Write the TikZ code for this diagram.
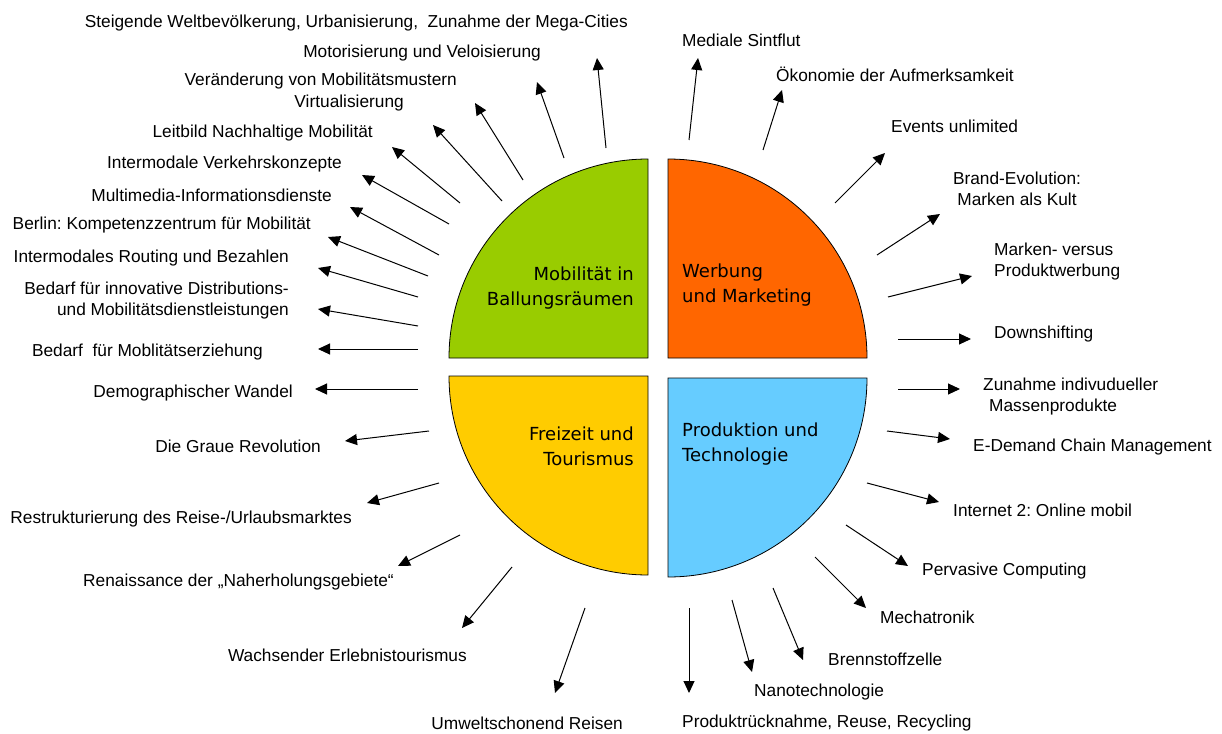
\documentclass[tikz,border=0pt]{standalone}
\usepackage{fontspec}
\setmainfont{Liberation Sans}
\newfontfamily\quadfont{DejaVu Sans}
\usetikzlibrary{arrows.meta}
\definecolor{mobgreen}{RGB}{153,204,0}
\definecolor{werborange}{RGB}{255,102,0}
\definecolor{freiyellow}{RGB}{255,204,0}
\definecolor{prodblue}{RGB}{102,204,255}
\frenchspacing

\begin{document}
\begin{tikzpicture}[x=1pt,y=-1pt,
    trend/.style={inner sep=0pt, font=\fontsize{17.3pt}{21pt}\selectfont},
    field/.style={inner sep=0pt, font=\quadfont\fontsize{18pt}{25pt}\selectfont},
    sector/.style={draw=black, line width=0.8pt},
    ray/.style={line width=1pt, -{Triangle[length=12pt,width=11pt]}}]
    \useasboundingbox (0,0) rectangle (1222,733);

    % the four quarter discs
    \filldraw[sector, fill=mobgreen] (648,358) -- (449,358) arc (180:270:199) -- cycle;
    \filldraw[sector, fill=werborange] (668,358) -- (668,159) arc (270:360:199) -- cycle;
    \filldraw[sector, fill=freiyellow] (648,376) -- (648,575) arc (90:180:199) -- cycle;
    \filldraw[sector, fill=prodblue] (668,378) -- (867,378) arc (0:90:199) -- cycle;

    \node[field, align=right, anchor=east] (mob) at (634,288) {Mobilität in\\Ballungsräumen};
    \node[field, align=left, anchor=west] (werb) at (682,285) {Werbung\\und Marketing};
    \node[field, align=right, anchor=east] (frei) at (634,446) {Freizeit und\\Tourismus};
    \node[field, align=left, anchor=west] (prod) at (682,444) {Produktion und\\Technologie};

    % trends on the left: anchored at their right end
    \node[trend, anchor=east] (steig) at (628,23) {Steigende Weltbevölkerung, Urbanisierung,\ \ Zunahme der Mega-Cities};
    \node[trend, anchor=east] (motor) at (541,53) {Motorisierung und Veloisierung};
    \node[trend, anchor=east] (veraend) at (457,81) {Veränderung von Mobilitätsmustern};
    \node[trend, anchor=east] (virt) at (404,103) {Virtualisierung};
    \node[trend, anchor=east] (leit) at (373,133) {Leitbild Nachhaltige Mobilität};
    \node[trend, anchor=east] (verk) at (342,164) {Intermodale Verkehrskonzepte};
    \node[trend, anchor=east] (multi) at (332,195) {Multimedia-Informationsdienste};
    \node[trend, anchor=east] (berlin) at (311,225) {Berlin: Kompetenzzentrum für Mobilität};
    \node[trend, anchor=east] (routing) at (289,258) {Intermodales Routing und Bezahlen};
    \node[trend, anchor=east, align=right] (distr) at (289,301) {Bedarf für innovative Distributions-\\und Mobilitätsdienstleistungen};
    \node[trend, anchor=east] (erzieh) at (263,352) {Bedarf\ \ für Moblitätserziehung};
    \node[trend, anchor=east] (demo) at (293,393) {Demographischer Wandel};
    \node[trend, anchor=east] (graue) at (321,446) {Die Graue Revolution};
    \node[trend, anchor=east] (restr) at (352,519) {Restrukturierung des Reise-/Urlaubsmarktes};
    \node[trend, anchor=east] (renai) at (394,582) {Renaissance der „Naherholungsgebiete“};
    \node[trend, anchor=east] (wachs) at (467,655) {Wachsender Erlebnistourismus};
    \node[trend, anchor=east] (umwelt) at (623,723) {Umweltschonend Reisen};

    % trends on the right: anchored at their left end
    \node[trend, anchor=west] (medial) at (682,40) {Mediale Sintflut};
    \node[trend, anchor=west] (oekon) at (776,74) {Ökonomie der Aufmerksamkeit};
    \node[trend, anchor=west] (events) at (891,126) {Events unlimited};
    \node[trend, align=center] (brand) at (1017,189) {Brand-Evolution:\\Marken als Kult};
    \node[trend, anchor=west, align=left] (versus) at (994,262) {Marken- versus\\Produktwerbung};
    \node[trend, anchor=west] (down) at (994,334) {Downshifting};
    \node[trend, anchor=west, align=left] (zunahme) at (983,397) {Zunahme indivudueller\\\hspace{6pt}Massenprodukte};
    \node[trend, anchor=west] (edemand) at (973,447) {E-Demand Chain Management};
    \node[trend, anchor=west] (internet) at (953,510) {Internet 2: Online mobil};
    \node[trend, anchor=west] (perv) at (922,571) {Pervasive Computing};
    \node[trend, anchor=west] (mecha) at (880,617) {Mechatronik};
    \node[trend, anchor=west] (brenn) at (828,659) {Brennstoffzelle};
    \node[trend, anchor=west] (nano) at (754,692) {Nanotechnologie};
    \node[trend, anchor=west] (recyc) at (682,723) {Produktrücknahme, Reuse, Recycling};

    % rays from the disc towards each trend
    \foreach \n/\sx/\sy/\ex/\ey in {steig/606/148/597/58, motor/564/158/537/82,
        veraend/523/180/475/103, virt/502/201/433/125, leit/460/203/392/147,
        verk/449/224/362/175, multi/439/255/350/207, berlin/428/276/328/237,
        routing/418/297/318/268, distr/418/326/318/309, erzieh/418/349/318/349,
        demo/418/389/315/389, graue/429/431/345/441, restr/439/483/367/503,
        renai/460/535/398/566, wachs/512/567/462/628, umwelt/585/608/555/693,
        recyc/689/608/689/693, nano/732/600/752/672, brenn/773/588/803/660,
        mecha/815/557/866/608, perv/846/525/908/566, internet/867/483/939/502,
        edemand/887/431/950/439, zunahme/898/389/960/389, down/898/339/971/339,
        versus/888/297/972/276, brand/877/255/940/214, events/835/203/885/153,
        oekon/763/150/782/90, medial/689/140/698/58}
    {
        \coordinate (\n-s) at (\sx,\sy);
        \coordinate (\n-e) at (\ex,\ey);
        \draw[ray] (\n-s) -- (\n-e);
    }
\end{tikzpicture}
\end{document}
